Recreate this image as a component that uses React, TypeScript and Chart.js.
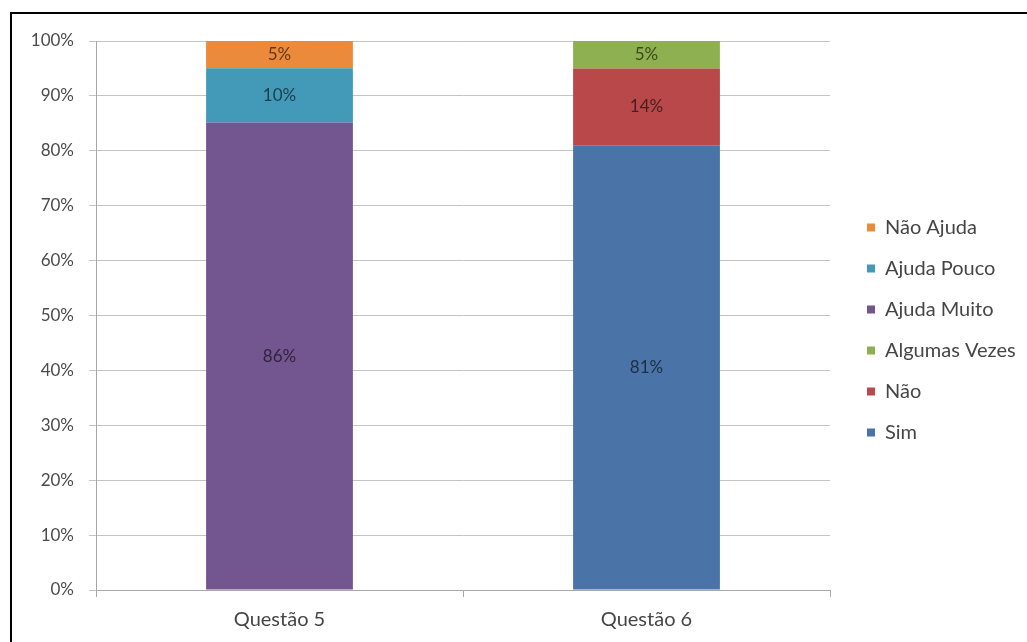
import React, { useEffect, useRef } from 'react';
import { Chart, registerables } from 'chart.js';

Chart.register(...registerables);

const categories = ['Questão 5', 'Questão 6'];
const seriesNames = ['Sim', 'Não', 'Algumas Vezes', 'Ajuda Muito', 'Ajuda Pouco', 'Não Ajuda'];
const sim = [null, 81];
const nao = [null, 14];
const algumasVezes = [null, 5];
const ajudaMuito = [86, null];
const ajudaPouco = [10, null];
const naoAjuda = [5, null];
const seriesColors = ['#4a73a8', '#b8484a', '#8fb050', '#735590', '#4399b8', '#ec8a3c'];
const yTicks = [0, 10, 20, 30, 40, 50, 60, 70, 80, 90, 100];

const FONT = 'Lato';

const dataLabels = {
  id: 'dataLabels',
  afterDatasetsDraw(chart: any) {
    const ctx = chart.ctx;
    chart.data.datasets.forEach((ds: any, di: number) => {
      const meta = chart.getDatasetMeta(di);
      meta.data.forEach((el: any, i: number) => {
        const raw = ds.rawValues[i];
        if (raw == null) return;
        const { x, y, base } = el.getProps(['x', 'y', 'base'], true);
        ctx.save();
        ctx.font = `17px ${FONT}`;
        ctx.fillStyle = 'rgba(0,0,0,0.6)';
        ctx.textAlign = 'center';
        ctx.textBaseline = 'middle';
        ctx.fillText(raw + '%', x, (y + base) / 2);
        ctx.restore();
      });
    });
  },
};

const customLegend = {
  id: 'customLegend',
  afterDraw(chart: any) {
    const { ctx, chartArea } = chart;
    const items = chart.data.datasets.slice().reverse();
    const spacing = 41;
    const centerY = chart.height / 2 + 2;
    const startY = centerY - (spacing * (items.length - 1)) / 2;
    const boxX = chartArea.right + 37;
    ctx.save();
    ctx.font = `20px ${FONT}`;
    ctx.textBaseline = 'middle';
    ctx.textAlign = 'left';
    items.forEach((ds: any, i: number) => {
      const y = startY + i * spacing;
      ctx.fillStyle = ds.backgroundColor;
      ctx.fillRect(boxX, y - 4, 8, 8);
      ctx.fillStyle = '#454545';
      ctx.fillText(ds.label, boxX + 18, y);
    });
    ctx.restore();
  },
};

export default function App() {
  const ref = useRef<HTMLCanvasElement>(null);
  useEffect(() => {
    if (!ref.current) return;
    const seriesValues = [sim, nao, algumasVezes, ajudaMuito, ajudaPouco, naoAjuda];
    const totals = categories.map((_, ci) =>
      seriesValues.reduce((s, arr) => s + (arr[ci] == null ? 0 : (arr[ci] as number)), 0)
    );
    const datasets = seriesValues.map((arr, si) => ({
      label: seriesNames[si],
      data: arr.map((v, ci) => (v == null ? null : ((v as number) / totals[ci]) * 100)),
      rawValues: arr,
      backgroundColor: seriesColors[si],
      borderWidth: 0,
      stack: 'one',
      barPercentage: 0.4,
      categoryPercentage: 1,
    }));
    const chart = new Chart(ref.current, {
      type: 'bar',
      data: { labels: categories, datasets: datasets as any },
      options: {
        animation: false,
        responsive: false,
        devicePixelRatio: 1,
        layout: { padding: { top: 27, left: 0, right: 197, bottom: 0 } },
        plugins: {
          legend: { display: false },
          tooltip: { enabled: false },
        },
        scales: {
          x: {
            stacked: true,
            grid: { drawOnChartArea: false, drawTicks: true, tickLength: 7, color: '#a8a8a8', offset: true },
            border: { color: '#a8a8a8' },
            ticks: { color: '#454545', font: { family: FONT, size: 20 }, padding: 11 },
            afterFit(s: any) {
              s.height = 52;
            },
          },
          y: {
            stacked: true,
            min: 0,
            max: 100,
            grid: { color: '#c4c4c4', tickLength: 7 },
            border: { color: '#a8a8a8' },
            ticks: {
              color: '#4a4a4a',
              font: { family: FONT, size: 17 },
              padding: 15,
              callback: (v: any) => v + '%',
            },
            afterBuildTicks(s: any) {
              s.ticks = yTicks.map((v) => ({ value: v }));
            },
            afterFit(s: any) {
              s.width = 84;
            },
          },
        },
      },
      plugins: [dataLabels, customLegend],
    });
    return () => chart.destroy();
  }, []);

  return (
    <div
      style={{
        position: 'absolute',
        left: 10,
        top: 12,
        width: 1017,
        height: 630,
        borderTop: '2px solid #000',
        borderLeft: '2px solid #000',
        boxSizing: 'border-box',
        background: '#fff',
      }}
    >
      <canvas ref={ref} width={1015} height={628} style={{ display: 'block' }} />
    </div>
  );
}
